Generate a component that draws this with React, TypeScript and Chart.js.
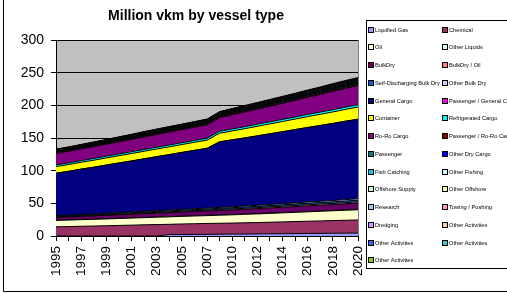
import { useEffect, useRef } from 'react';
import { Chart, registerables } from 'chart.js';

Chart.register(...registerables);

const TITLE = 'Million vkm by vessel type';

const years = ['1995', '1996', '1997', '1998', '1999', '2000', '2001', '2002', '2003', '2004', '2005', '2006', '2007', '2008', '2010', '2011', '2012', '2013', '2014', '2015', '2016', '2017', '2018', '2019', '2020'];

const yTicks = [0, 50, 100, 150, 200, 250, 300];

const liquifiedGas = [0, 0, 0, 0, 0, 0, 0, 0, 0, 2.2, 2.3, 2.4, 2.5, 2.7, 2.9, 3.0, 3.2, 3.4, 3.5, 3.7, 3.9, 4.0, 4.2, 4.4, 4.5];
const chemical = [14, 14.4, 14.9, 15.3, 15.7, 16.2, 16.6, 17.1, 17.5, 15.7, 16.1, 16.4, 16.7, 16.8, 16.9, 17.2, 17.4, 17.7, 18.1, 18.4, 18.7, 19.1, 19.4, 19.7, 20.1];
const oil = [9.8, 9.9, 10.1, 10.2, 10.4, 10.6, 10.8, 11, 11.2, 11.4, 11.6, 11.8, 12, 12.3, 12.6, 12.9, 13.2, 13.5, 13.8, 14.1, 14.4, 14.7, 15, 15.3, 15.6];
const otherLiquids = [0.3, 0.3, 0.3, 0.3, 0.3, 0.3, 0.3, 0.3, 0.3, 0.4, 0.4, 0.4, 0.4, 0.4, 0.4, 0.4, 0.4, 0.4, 0.5, 0.5, 0.5, 0.5, 0.5, 0.5, 0.5];
const bulkDry = [4.5, 4.6, 4.8, 5, 5.2, 5.4, 5.6, 5.8, 6, 6.1, 6.3, 6.5, 6.7, 7, 7.2, 7.4, 7.7, 7.9, 8.1, 8.3, 8.6, 8.8, 9, 9.3, 9.5];
const bulkDryOil = [0.8, 0.8, 0.9, 0.9, 1, 1, 1, 1.1, 1.1, 1.2, 1.2, 1.3, 1.3, 1.4, 1.4, 1.5, 1.5, 1.6, 1.6, 1.7, 1.7, 1.8, 1.8, 1.9, 2];
const selfDischarging = [1, 1, 1.1, 1.1, 1.2, 1.3, 1.3, 1.4, 1.5, 1.5, 1.6, 1.7, 1.7, 1.8, 1.9, 1.9, 2, 2.1, 2.1, 2.2, 2.3, 2.3, 2.4, 2.5, 2.5];
const otherBulkDry = [0.8, 0.8, 0.9, 0.9, 1, 1, 1.1, 1.1, 1.2, 1.2, 1.3, 1.3, 1.4, 1.4, 1.5, 1.6, 1.6, 1.7, 1.7, 1.8, 1.9, 1.9, 2, 2.1, 2.2];
const generalCargo = [64.8, 67, 69.2, 71.4, 73.6, 75.8, 78, 80.2, 82.4, 84.7, 86.9, 89.1, 91.3, 100.2, 102.2, 104.1, 106.1, 108, 110, 112, 113.9, 115.9, 117.8, 119.8, 121.7];
const passengerGeneralCargo = [0.3, 0.3, 0.3, 0.3, 0.3, 0.3, 0.3, 0.3, 0.3, 0.3, 0.3, 0.3, 0.3, 0.3, 0.3, 0.3, 0.3, 0.3, 0.3, 0.3, 0.3, 0.3, 0.3, 0.3, 0.3];
const container = [10, 10.2, 10.4, 10.6, 10.8, 11, 11.2, 11.4, 11.6, 11.8, 12, 12.2, 12.4, 13, 13.5, 14, 14.5, 15, 15.5, 16, 16.5, 17, 17.5, 18, 18.5];
const refrigerated = [2.5, 2.5, 2.5, 2.6, 2.6, 2.6, 2.7, 2.7, 2.7, 2.8, 2.8, 2.8, 2.9, 2.9, 3, 3, 3.1, 3.1, 3.2, 3.2, 3.3, 3.3, 3.4, 3.4, 3.5];
const roRoCargo = [17.5, 17.8, 18, 18.3, 18.5, 18.8, 19, 19.3, 19.5, 19.8, 20, 20.3, 20.5, 21, 21.8, 22.5, 23.3, 24, 24.8, 25.6, 26.4, 27.2, 28, 28.8, 29.5];
const passengerRoRo = [1.2, 1.2, 1.2, 1.3, 1.3, 1.3, 1.3, 1.4, 1.4, 1.4, 1.4, 1.5, 1.5, 1.5, 1.5, 1.6, 1.6, 1.6, 1.6, 1.7, 1.7, 1.7, 1.8, 1.8, 1.8];
const passenger = [0.9, 0.9, 0.9, 1, 1, 1, 1, 1, 1.1, 1.1, 1.1, 1.1, 1.2, 1.2, 1.2, 1.3, 1.3, 1.3, 1.4, 1.4, 1.4, 1.5, 1.5, 1.5, 1.6];
const otherDryCargo = [0.5, 0.5, 0.5, 0.5, 0.5, 0.6, 0.6, 0.6, 0.6, 0.6, 0.6, 0.6, 0.7, 0.7, 0.7, 0.7, 0.8, 0.8, 0.8, 0.8, 0.9, 0.9, 0.9, 0.9, 1];
const fishCatching = [0.6, 0.6, 0.6, 0.6, 0.6, 0.6, 0.6, 0.6, 0.6, 0.6, 0.6, 0.6, 0.6, 0.6, 0.7, 0.7, 0.7, 0.7, 0.7, 0.7, 0.8, 0.8, 0.8, 0.8, 0.8];
const otherFishing = [0.3, 0.3, 0.3, 0.3, 0.3, 0.3, 0.4, 0.4, 0.4, 0.4, 0.4, 0.4, 0.4, 0.4, 0.5, 0.5, 0.5, 0.5, 0.5, 0.5, 0.5, 0.6, 0.6, 0.6, 0.6];
const offshoreSupply = [0.5, 0.5, 0.5, 0.6, 0.6, 0.6, 0.6, 0.6, 0.7, 0.7, 0.7, 0.7, 0.7, 0.8, 0.8, 0.8, 0.8, 0.9, 0.9, 0.9, 0.9, 0.9, 1, 1, 1];
const otherOffshore = [0.3, 0.3, 0.3, 0.3, 0.3, 0.4, 0.4, 0.4, 0.4, 0.4, 0.4, 0.4, 0.4, 0.5, 0.5, 0.5, 0.5, 0.5, 0.5, 0.5, 0.6, 0.6, 0.6, 0.6, 0.6];
const research = [0.2, 0.2, 0.2, 0.2, 0.2, 0.2, 0.2, 0.3, 0.3, 0.3, 0.3, 0.3, 0.3, 0.3, 0.3, 0.3, 0.3, 0.3, 0.4, 0.4, 0.4, 0.4, 0.4, 0.4, 0.4];
const towingPushing = [0.6, 0.6, 0.6, 0.6, 0.7, 0.7, 0.7, 0.7, 0.8, 0.8, 0.8, 0.8, 0.8, 0.9, 0.9, 0.9, 0.9, 1, 1, 1, 1, 1, 1.1, 1.1, 1.1];
const dredging = [0.4, 0.4, 0.4, 0.4, 0.4, 0.5, 0.5, 0.5, 0.5, 0.5, 0.5, 0.6, 0.6, 0.6, 0.6, 0.6, 0.6, 0.7, 0.7, 0.7, 0.7, 0.7, 0.8, 0.8, 0.8];
const otherActivities1 = [0.3, 0.3, 0.3, 0.3, 0.3, 0.3, 0.4, 0.4, 0.4, 0.4, 0.4, 0.4, 0.4, 0.4, 0.5, 0.5, 0.5, 0.5, 0.5, 0.5, 0.5, 0.6, 0.6, 0.6, 0.6];
const otherActivities2 = [0.3, 0.3, 0.3, 0.3, 0.3, 0.3, 0.3, 0.4, 0.4, 0.4, 0.4, 0.4, 0.4, 0.4, 0.4, 0.5, 0.5, 0.5, 0.5, 0.5, 0.5, 0.5, 0.6, 0.6, 0.6];
const otherActivities3 = [0.3, 0.3, 0.3, 0.3, 0.3, 0.3, 0.4, 0.4, 0.4, 0.4, 0.4, 0.4, 0.4, 0.4, 0.5, 0.5, 0.5, 0.5, 0.5, 0.5, 0.5, 0.6, 0.6, 0.6, 0.6];
const otherActivities4 = [0.3, 0.3, 0.3, 0.3, 0.3, 0.3, 0.3, 0.4, 0.4, 0.4, 0.4, 0.4, 0.4, 0.4, 0.4, 0.5, 0.5, 0.5, 0.5, 0.5, 0.5, 0.5, 0.6, 0.6, 0.6];

const seriesNames = [
  'Liquified Gas', 'Chemical', 'Oil', 'Other Liquids', 'BulkDry', 'BulkDry / Oil',
  'Self-Discharging Bulk Dry', 'Other Bulk Dry', 'General Cargo', 'Passenger / General Cargo',
  'Container', 'Refrigerated Cargo', 'Ro-Ro Cargo', 'Passenger / Ro-Ro Cargo', 'Passenger',
  'Other Dry Cargo', 'Fish Catching', 'Other Fishing', 'Offshore Supply', 'Other Offshore',
  'Research', 'Towing / Pushing', 'Dredging', 'Other Activities', 'Other Activities',
  'Other Activities', 'Other Activities',
];

const seriesValues = [
  liquifiedGas, chemical, oil, otherLiquids, bulkDry, bulkDryOil, selfDischarging, otherBulkDry,
  generalCargo, passengerGeneralCargo, container, refrigerated, roRoCargo, passengerRoRo, passenger,
  otherDryCargo, fishCatching, otherFishing, offshoreSupply, otherOffshore, research, towingPushing,
  dredging, otherActivities1, otherActivities2, otherActivities3, otherActivities4,
];

const seriesColors = [
  '#9999FF', '#993366', '#FFFFCC', '#CCFFFF', '#660066', '#FF8080', '#0066CC', '#CCCCFF',
  '#000080', '#FF00FF', '#FFFF00', '#00FFFF', '#800080', '#800000', '#008080', '#0000FF',
  '#00CCFF', '#CCFFFF', '#CCFFCC', '#FFFF99', '#99CCFF', '#FF99CC', '#CC99FF', '#FFCC99',
  '#3366FF', '#33CCCC', '#99CC00',
];

const FONT = '"Liberation Sans", Arial, sans-serif';

const decorPlugin = {
  id: 'decor',
  beforeDraw(chart: any) {
    const { ctx, chartArea: a, width, height } = chart;
    ctx.save();
    ctx.fillStyle = '#FFFFFF';
    ctx.fillRect(0, 0, width, height);
    ctx.fillStyle = '#C0C0C0';
    ctx.fillRect(a.left, a.top, a.right - a.left, a.bottom - a.top);
    ctx.restore();
  },
  afterDraw(chart: any) {
    const { ctx, chartArea: a, height } = chart;
    ctx.save();
    // plot right edge
    ctx.strokeStyle = '#808080';
    ctx.lineWidth = 1;
    ctx.beginPath();
    ctx.moveTo(Math.round(a.right) + 0.5, a.top);
    ctx.lineTo(Math.round(a.right) + 0.5, a.bottom);
    ctx.stroke();
    // outer frame
    ctx.strokeStyle = '#000000';
    ctx.beginPath();
    ctx.moveTo(3.5, 0);
    ctx.lineTo(3.5, height - 1.5);
    ctx.lineTo(chart.width, height - 1.5);
    ctx.stroke();
    // title
    ctx.fillStyle = '#000000';
    ctx.font = 'bold 14px ' + FONT;
    ctx.textAlign = 'center';
    ctx.textBaseline = 'middle';
    ctx.fillText(TITLE, 196, 16);
    // legend
    const lx = 366;
    const ly = 20;
    ctx.fillStyle = '#FFFFFF';
    ctx.fillRect(lx, ly, 200, 249);
    ctx.strokeStyle = '#000000';
    ctx.strokeRect(lx + 0.5, ly + 0.5, 200, 248);
    ctx.font = '5.7px ' + FONT;
    ctx.textAlign = 'left';
    chart.data.datasets.forEach((ds: any, i: number) => {
      const col = i % 2;
      const row = Math.floor(i / 2);
      const x = col === 0 ? 369 : 443;
      const y = 29.5 + row * 17.75;
      ctx.fillStyle = ds.backgroundColor;
      ctx.fillRect(x, Math.round(y) - 2, 4, 4);
      ctx.strokeStyle = '#000000';
      ctx.strokeRect(x - 0.5, Math.round(y) - 2.5, 5, 5);
      ctx.fillStyle = '#000000';
      ctx.fillText(ds.label, x + 6, y + 0.5);
    });
    ctx.restore();
  },
};

export default function App() {
  const ref = useRef<HTMLCanvasElement>(null);
  useEffect(() => {
    document.body.style.margin = '0';
    const datasets = seriesNames.map((name, i) => ({
      label: name,
      data: seriesValues[i],
      backgroundColor: seriesColors[i],
      borderColor: '#000000',
      borderWidth: 1,
      fill: i === 0 ? 'origin' : '-1',
      pointRadius: 0,
      tension: 0,
    }));
    const chart = new Chart(ref.current as HTMLCanvasElement, {
      type: 'line',
      data: { labels: years, datasets: datasets as any },
      options: {
        animation: false,
        responsive: false,
        devicePixelRatio: 1,
        events: [],
        layout: { padding: { left: 0, right: 149, top: 40, bottom: 0 } },
        plugins: { legend: { display: false }, title: { display: false }, tooltip: { enabled: false } },
        scales: {
          x: {
            type: 'category',
            offset: false,
            grid: { display: true, drawOnChartArea: false, drawTicks: true, tickLength: 5, color: '#000000' },
            border: { color: '#000000', width: 1 },
            ticks: {
              autoSkip: false,
              minRotation: 90,
              maxRotation: 90,
              padding: 5,
              color: '#000000',
              font: { family: FONT, size: 13.5 },
              callback: (_v: any, i: number) => (i % 2 === 0 ? years[i] : ''),
            },
            afterFit: (s: any) => { s.height = 57; },
          },
          y: {
            stacked: true,
            min: yTicks[0],
            max: yTicks[yTicks.length - 1],
            grid: { color: '#000000', tickLength: 5, drawTicks: true },
            border: { color: '#000000', width: 1 },
            ticks: { stepSize: 50, padding: 7, color: '#000000', font: { family: FONT, size: 14 } },
            afterFit: (s: any) => { s.width = 56; },
          },
        },
      } as any,
      plugins: [decorPlugin],
    });
    return () => chart.destroy();
  }, []);
  return (
    <div style={{ position: 'absolute', left: 0, top: 0, width: 507, height: 293 }}>
      <canvas ref={ref} width={507} height={293} style={{ display: 'block', width: 507, height: 293 }} />
    </div>
  );
}
